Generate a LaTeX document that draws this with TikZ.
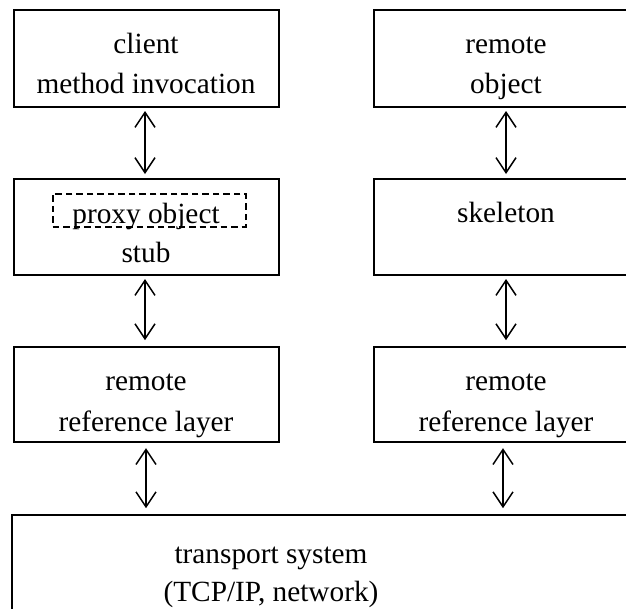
\documentclass[tikz,border=0pt]{standalone}
\usepackage{fontspec}
\setmainfont{Liberation Serif}
\usetikzlibrary{arrows.meta}
\begin{document}
\begin{tikzpicture}[x=1pt,y=-1pt,
  box/.style={draw,line width=2pt,inner sep=0pt},
  lbl/.style={anchor=base,inner sep=0pt,font=\fontsize{29.3}{35}\selectfont},
  arr/.style={{Straight Barb[length=15pt,width=20pt]}-{Straight Barb[length=15pt,width=20pt]},line width=1.5pt},
  dashbox/.style={draw,line width=1.6pt,dash pattern=on 6.5pt off 4pt,inner sep=0pt}]
\useasboundingbox (0,0) rectangle (626,608);
\clip (0,0) rectangle (626,608);
% left column boxes
\node[box,minimum width=264.5pt,minimum height=96.5pt] (client) at (146.25,58.25) {};
\node[box,minimum width=264.5pt,minimum height=96pt] (stub) at (146.25,226.5) {};
\node[box,minimum width=264.5pt,minimum height=95.5pt] (rrlL) at (146.25,394.4) {};
% right column boxes (cut off at the right edge)
\node[box,minimum width=266pt,minimum height=96.5pt] (remobj) at (507,58.25) {};
\node[box,minimum width=266pt,minimum height=96pt] (skel) at (507,226.5) {};
\node[box,minimum width=266pt,minimum height=95.5pt] (rrlR) at (507,394.4) {};
% transport system (cut off at the bottom and right)
\node[box,minimum width=628pt,minimum height=125.3pt] (trans) at (326,577.35) {};
% dashed proxy object frame
\node[dashbox,minimum width=193pt,minimum height=32.7pt] (proxy) at (149.2,210.35) {};
% texts
\node[lbl] (t1a) at (146,53) {client};
\node[lbl] (t1b) at (146,93) {method invocation};
\node[lbl] (t2a) at (146,223) {proxy object};
\node[lbl] (t2b) at (146,262) {stub};
\node[lbl] (t3a) at (146,390) {remote};
\node[lbl] (t3b) at (146,431) {reference layer};
\node[lbl] (r1a) at (506,53) {remote};
\node[lbl] (r1b) at (506,93) {object};
\node[lbl] (r2a) at (506,222) {skeleton};
\node[lbl] (r3a) at (506,390) {remote};
\node[lbl] (r3b) at (506,431) {reference layer};
\node[lbl] (ba) at (271,563) {transport system};
\node[lbl] (bb) at (271,601) {(TCP/IP, network)};
% connectors
\draw[arr] ([xshift=-1.25pt,yshift=-3.5pt]client.south) -- ([xshift=-1.25pt,yshift=3.5pt]stub.north);
\draw[arr] ([xshift=-1.25pt,yshift=-3.5pt]stub.south) -- ([xshift=-1.25pt,yshift=5.5pt]rrlL.north);
\draw[arr] ([xshift=-0.25pt,yshift=-5pt]rrlL.south) -- ([xshift=-0.25pt,yshift=5.5pt]trans.north -| rrlL.south);
\draw[arr] ([xshift=-1pt,yshift=-3.5pt]remobj.south) -- ([xshift=-1pt,yshift=3.5pt]skel.north);
\draw[arr] ([xshift=-1pt,yshift=-3.5pt]skel.south) -- ([xshift=-1pt,yshift=5.5pt]rrlR.north);
\draw[arr] ([xshift=-4pt,yshift=-5pt]rrlR.south) -- ([xshift=-4pt,yshift=5.5pt]trans.north -| rrlR.south);
\end{tikzpicture}
\end{document}
